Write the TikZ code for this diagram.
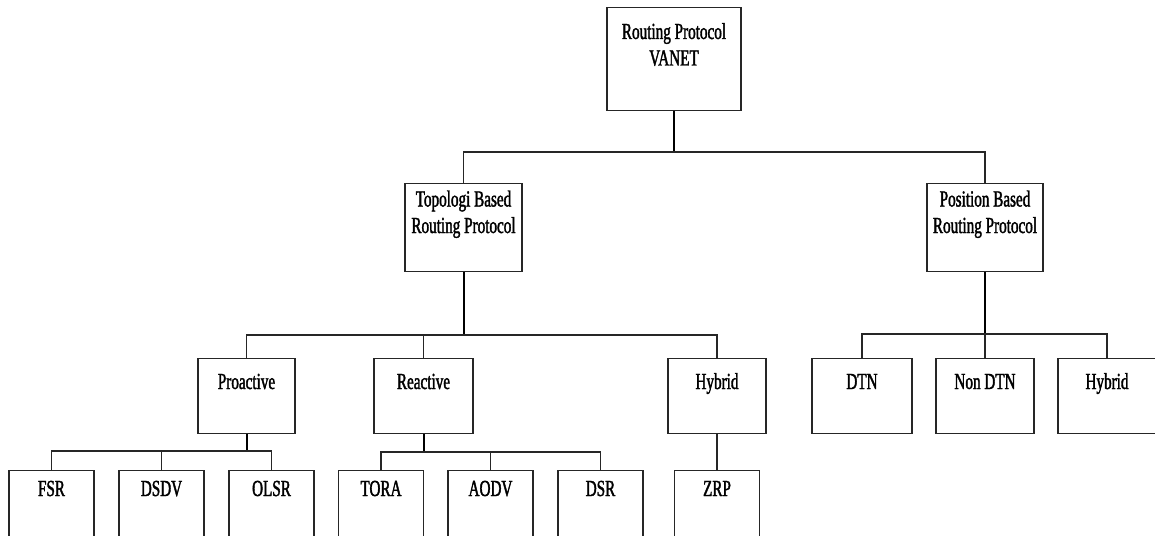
\documentclass[tikz,border=0pt]{standalone}
\usepackage{fontspec}
\newfontfamily\diafont[FakeStretch=0.66,FakeBold=1.6]{Liberation Serif}
\begin{document}
\begin{tikzpicture}[x=1pt,y=-1pt,
  box/.style={draw=black!85, line width=1.3pt, inner sep=0pt, anchor=north, minimum width=#1},
  box/.default=98,
  lvl2/.style={box=#1, minimum height=75},
  lvl2/.default=98,
  leaf/.style={box=85, minimum height=95},
  lbl/.style={font=\diafont\fontsize{23}{26.5}\selectfont, inner sep=0pt, anchor=base, align=center, text=black},
  conn/.style={draw=black!85, line width=1.3pt},
  trunk/.style={draw=black, line width=2pt}]
\useasboundingbox (0,0) rectangle (1155,535);
\clip (0,0) rectangle (1155,535);
% level 0
\node[box=134, minimum height=103] (root) at (674,7) {};
\node[lbl] (rootL) at (674,65.5) {Routing Protocol\\VANET};
% level 1
\node[box=117, minimum height=88] (topo) at (463.5,183) {};
\node[lbl] (topoL) at (463.5,233) {Topologi Based\\Routing Protocol};
\node[box=116, minimum height=88] (pos) at (985,183) {};
\node[lbl] (posL) at (985,233) {Position Based\\Routing Protocol};
% level 2
\node[lvl2=97] (pro) at (246.5,358) {};
\node[lbl] (proL) at (246.5,389) {Proactive};
\node[lvl2=99] (rea) at (423.5,358) {};
\node[lbl] (reaL) at (423.5,389) {Reactive};
\node[lvl2=98] (hyb1) at (717,358) {};
\node[lbl] (hyb1L) at (717,389) {Hybrid};
\node[lvl2=100] (dtn) at (862,358) {};
\node[lbl] (dtnL) at (862,389) {DTN};
\node[lvl2=98] (ndtn) at (985,358) {};
\node[lbl] (ndtnL) at (985,389) {Non DTN};
\node[lvl2=98] (hyb2) at (1107,358) {};
\node[lbl] (hyb2L) at (1107,389) {Hybrid};
% level 3
\node[leaf] (fsr) at (51.5,470) {};
\node[lbl] (fsrL) at (51.5,496) {FSR};
\node[leaf] (dsdv) at (161.5,470) {};
\node[lbl] (dsdvL) at (161.5,496) {DSDV};
\node[leaf] (olsr) at (271.5,470) {};
\node[lbl] (olsrL) at (271.5,496) {OLSR};
\node[leaf] (tora) at (381,470) {};
\node[lbl] (toraL) at (381,496) {TORA};
\node[leaf] (aodv) at (490.5,470) {};
\node[lbl] (aodvL) at (490.5,496) {AODV};
\node[leaf] (dsr) at (600.5,470) {};
\node[lbl] (dsrL) at (600.5,496) {DSR};
\node[leaf] (zrp) at (717,470) {};
\node[lbl] (zrpL) at (717,496) {ZRP};
% junctions
\coordinate (j0) at (674,152);
\coordinate (j1) at (463.5,335);
\coordinate (j2) at (985,334);
\coordinate (j3) at (246.5,451);
\coordinate (j4) at (423.5,452);
% connectors
\draw[trunk] (root.south) -- (j0);
\draw[conn] (topo.north) |- (j0) -| (pos.north);
\draw[trunk] (topo.south) -- (j1);
\draw[conn] (pro.north) |- (j1) -| (hyb1.north);
\draw[conn] (rea.north) |- (j1);
\draw[trunk] (pos.south) -- (j2);
\draw[conn] (dtn.north) |- (j2) -| (hyb2.north);
\draw[conn] (ndtn.north) -- (j2);
\draw[trunk] (pro.south) -- (j3);
\draw[conn] (fsr.north) |- (j3) -| (olsr.north);
\draw[conn] (dsdv.north) |- (j3);
\draw[trunk] (rea.south) -- (j4);
\draw[conn] (tora.north) |- (j4) -| (dsr.north);
\draw[conn] (aodv.north) |- (j4);
\draw[conn] (hyb1.south) -- (zrp.north);
\end{tikzpicture}
\end{document}
